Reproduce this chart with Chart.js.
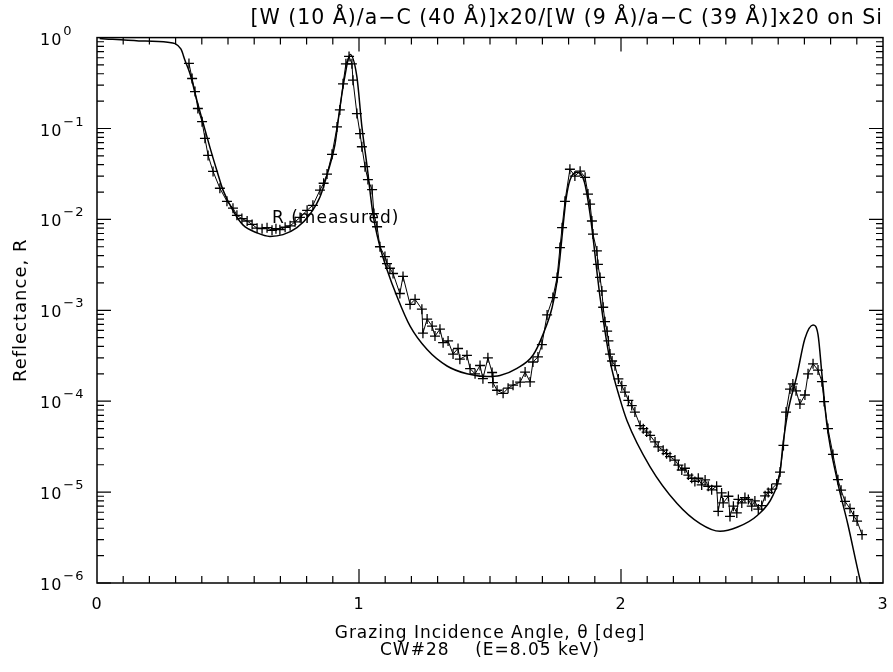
<!DOCTYPE html>
<html>
<head>
<meta charset="utf-8">
<script src="https://cdn.jsdelivr.net/npm/chart.js@4.4.0/dist/chart.umd.min.js"></script>
<style>
html, body { margin: 0; padding: 0; background: #fff; }
</style>
</head>
<body>
<canvas id="chart" width="893" height="672"></canvas>
<script>
// calculated reflectance (smooth line)
var calcTheta = [0.01, 0.16, 0.27, 0.32, 0.336, 0.355, 0.382, 0.405, 0.431, 0.458, 0.481, 0.519, 0.557, 0.611, 0.66, 0.71,
  0.763, 0.813, 0.851, 0.878, 0.908, 0.927, 0.947, 0.966, 0.992, 1.011, 1.031, 1.053, 1.08, 1.107, 1.145, 1.195,
  1.26, 1.336, 1.412, 1.489, 1.538, 1.603, 1.664, 1.702, 1.737, 1.756, 1.767, 1.779, 1.79, 1.805, 1.832, 1.86,
  1.882, 1.92, 1.958, 1.996, 2.023, 2.111, 2.214, 2.302, 2.378, 2.443, 2.519, 2.58, 2.607, 2.618, 2.637, 2.672,
  2.702, 2.733, 2.752, 2.767, 2.786, 2.824, 2.866, 2.912, 2.93];
var calcR = [0.98, 0.92, 0.89, 0.75, 0.56, 0.40, 0.20, 0.115, 0.062, 0.034, 0.021, 0.0125, 0.0087, 0.0071, 0.0065, 0.0068,
  0.0081, 0.0114, 0.0176, 0.031, 0.066, 0.17, 0.39, 0.65, 0.37, 0.105, 0.038, 0.0116, 0.0050, 0.0028, 0.00142, 0.00067,
  0.00037, 0.000244, 0.0002, 0.000187, 0.000192, 0.00023, 0.00032, 0.00054, 0.00107, 0.00208, 0.0038, 0.0085, 0.0165, 0.027, 0.033, 0.026,
  0.0114, 0.0014, 0.00028, 0.000106, 0.000061, 0.000019, 7.5e-6, 4.5e-6, 3.7e-6, 4.1e-6, 5.5e-6, 9.2e-6, 1.65e-5, 3.3e-5, 7.6e-5, 1.95e-4,
  4.9e-4, 6.9e-4, 5.4e-4, 1.96e-4, 5.5e-5, 1.4e-5, 4.4e-6, 1.1e-6, 7e-7];

// measured reflectance (+ markers)
var measTheta = [0.351, 0.363, 0.374, 0.385, 0.401, 0.412, 0.424, 0.443, 0.469, 0.496, 0.519, 0.534, 0.553, 0.573, 0.592, 0.611,
  0.63, 0.649, 0.668, 0.683, 0.698, 0.718, 0.737, 0.756, 0.775, 0.802, 0.824, 0.851, 0.865, 0.878, 0.897, 0.916,
  0.927, 0.939, 0.95, 0.962, 0.973, 0.977, 0.992, 1.004, 1.011, 1.023, 1.034, 1.05, 1.057, 1.069, 1.08, 1.099,
  1.107, 1.118, 1.13, 1.156, 1.168, 1.195, 1.214, 1.24, 1.244, 1.26, 1.279, 1.29, 1.309, 1.321, 1.34, 1.359,
  1.378, 1.385, 1.412, 1.424, 1.443, 1.462, 1.473, 1.492, 1.508, 1.511, 1.527, 1.55, 1.569, 1.588, 1.615, 1.634,
  1.653, 1.664, 1.683, 1.698, 1.718, 1.74, 1.756, 1.767, 1.775, 1.786, 1.805, 1.824, 1.844, 1.863, 1.874, 1.882,
  1.889, 1.893, 1.908, 1.912, 1.92, 1.927, 1.932, 1.939, 1.947, 1.952, 1.958, 1.966, 1.977, 1.99, 2.003, 2.015,
  2.028, 2.041, 2.053, 2.073, 2.085, 2.098, 2.111, 2.13, 2.142, 2.161, 2.174, 2.187, 2.206, 2.219, 2.232, 2.244,
  2.257, 2.27, 2.282, 2.295, 2.308, 2.321, 2.333, 2.346, 2.365, 2.371, 2.384, 2.39, 2.41, 2.416, 2.429, 2.442,
  2.448, 2.461, 2.473, 2.486, 2.499, 2.511, 2.524, 2.537, 2.55, 2.562, 2.575, 2.594, 2.607, 2.62, 2.63, 2.645,
  2.656, 2.668, 2.683, 2.702, 2.714, 2.733, 2.752, 2.767, 2.775, 2.79, 2.809, 2.828, 2.84, 2.855, 2.874, 2.888,
  2.901, 2.92];
var measR = [0.52, 0.355, 0.255, 0.166, 0.119, 0.078, 0.0506, 0.0337, 0.022, 0.0158, 0.0133, 0.0111, 0.0102, 0.0096, 0.0088, 0.0080,
  0.0079, 0.0081, 0.0076, 0.0079, 0.0077, 0.0082, 0.0085, 0.0094, 0.0105, 0.0126, 0.0143, 0.021, 0.025, 0.0315, 0.052, 0.104,
  0.16, 0.31, 0.515, 0.62, 0.515, 0.34, 0.146, 0.0877, 0.063, 0.038, 0.0274, 0.0213, 0.0116, 0.0083, 0.0050, 0.0039,
  0.00327, 0.0029, 0.00254, 0.00153, 0.00236, 0.00116, 0.00132, 0.00103, 0.00056, 0.0008, 0.00067, 0.00052, 0.00062, 0.00044, 0.00046, 0.00033,
  0.00038, 0.00029, 0.00032, 0.000228, 0.0002, 0.000247, 0.000177, 0.0003, 0.000207, 0.00016, 0.000132, 0.000122, 0.000139, 0.00015, 0.000162, 0.000209,
  0.000163, 0.00027, 0.000307, 0.00042, 0.00089, 0.00138, 0.0023, 0.0049, 0.0081, 0.0158, 0.0356, 0.030, 0.0339, 0.029, 0.019, 0.0147,
  0.0096, 0.0069, 0.0045, 0.0032, 0.0023, 0.00163, 0.00108, 0.00075, 0.00059, 0.00046, 0.00033, 0.000277, 0.000246, 0.000176, 0.000148, 0.000126,
  0.000102, 8.95e-5, 7.6e-5, 5.4e-5, 4.98e-5, 4.58e-5, 4.2e-5, 3.56e-5, 3.14e-5, 2.89e-5, 2.65e-5, 2.45e-5, 2.25e-5, 1.98e-5, 1.75e-5, 1.83e-5,
  1.54e-5, 1.42e-5, 1.31e-5, 1.42e-5, 1.2e-5, 1.36e-5, 1.16e-5, 1.06e-5, 1.16e-5, 6.15e-6, 9.8e-6, 7.6e-6, 9.0e-6, 5.4e-6, 7.0e-6, 5.9e-6,
  8.3e-6, 7.6e-6, 8.7e-6, 8.3e-6, 7.0e-6, 8.0e-6, 6.5e-6, 7.1e-6, 9.1e-6, 9.9e-6, 1.08e-5, 1.23e-5, 1.66e-5, 3.26e-5, 7.6e-5, 1.36e-4,
  1.55e-4, 1.3e-4, 9.3e-5, 1.17e-4, 2.0e-4, 2.58e-4, 2.2e-4, 1.64e-4, 9.9e-5, 5.0e-5, 2.6e-5, 1.37e-5, 1.05e-5, 7.9e-6, 6.6e-6, 5.5e-6,
  4.8e-6, 3.4e-6];

var xTickValues = [0, 1, 2, 3];
var xTickLabels = ['0', '1', '2', '3'];
var yExponents = [0, -1, -2, -3, -4, -5, -6];

var titleText = '[W (10 Å)/a\u2212C (40 Å)]x20/[W (9 Å)/a\u2212C (39 Å)]x20 on Si';
var labelText = 'R (measured)';
var labelAt = { x: 0.668, y: 0.0102 };

var FONT = "'DejaVu Sans', sans-serif";

function pairs(xs, ys) {
  return xs.map(function(x, i) { return { x: x, y: ys[i] }; });
}

// the old plotting font is wide, so space letters out a bit
var spacingPlugin = {
  id: 'spacingPlugin',
  beforeUpdate: function(chart) { chart.ctx.letterSpacing = '1px'; },
  beforeDraw: function(chart) { chart.ctx.letterSpacing = '1px'; }
};

// frame, inward tick marks, power-of-ten labels and the curve label
var framePlugin = {
  id: 'framePlugin',
  afterDatasetsDraw: function(chart) {
    var ctx = chart.ctx, a = chart.chartArea;
    var xs = chart.scales.x, ys = chart.scales.y;
    ctx.save();
    ctx.strokeStyle = '#000';
    ctx.lineWidth = 1.5;
    ctx.strokeRect(a.left, a.top, a.right - a.left, a.bottom - a.top);
    ctx.lineWidth = 1.2;
    ctx.beginPath();
    for (var i = 1; i < 30; i++) {
      var px = xs.getPixelForValue(i / 10);
      var len = (i % 10 === 0) ? 14 : 7;
      ctx.moveTo(px, a.bottom); ctx.lineTo(px, a.bottom - len);
      ctx.moveTo(px, a.top); ctx.lineTo(px, a.top + len);
    }
    for (var e = -6; e < 0; e++) {
      for (var k = 1; k < 10; k++) {
        var py = ys.getPixelForValue(k * Math.pow(10, e));
        var l = (k === 1) ? 14 : 7;
        ctx.moveTo(a.left, py); ctx.lineTo(a.left + l, py);
        ctx.moveTo(a.right, py); ctx.lineTo(a.right - l, py);
      }
    }
    ctx.stroke();

    ctx.fillStyle = '#000';
    ctx.textBaseline = 'alphabetic';
    ctx.textAlign = 'left';
    yExponents.forEach(function(ex) {
      var py = ys.getPixelForValue(Math.pow(10, ex));
      ctx.font = '16px ' + FONT;
      ctx.fillText('10', 40, py + 7);
      var w = ctx.measureText('10').width;
      ctx.font = '13px ' + FONT;
      ctx.fillText(ex === 0 ? '0' : '\u2212' + (-ex), 40 + w + 1, py - 3);
    });

    ctx.font = '17px ' + FONT;
    ctx.textBaseline = 'middle';
    ctx.fillText(labelText, xs.getPixelForValue(labelAt.x), ys.getPixelForValue(labelAt.y));
    ctx.restore();
  }
};

new Chart(document.getElementById('chart').getContext('2d'), {
  type: 'line',
  data: {
    datasets: [{
      label: 'R (measured)',
      data: pairs(measTheta, measR),
      borderColor: '#000',
      backgroundColor: '#000',
      borderWidth: 1,
      pointStyle: 'cross',
      pointRadius: 5,
      pointBorderWidth: 1.3,
      pointBorderColor: '#000',
      tension: 0
    }, {
      label: 'R (calculated)',
      data: pairs(calcTheta, calcR),
      borderColor: '#000',
      borderWidth: 1.5,
      pointRadius: 0,
      cubicInterpolationMode: 'monotone'
    }]
  },
  options: {
    responsive: false,
    animation: false,
    layout: { padding: { left: 0, right: 10, top: 0, bottom: 0 } },
    plugins: {
      legend: { display: false },
      tooltip: { enabled: false },
      title: {
        display: true,
        text: titleText,
        align: 'end',
        color: '#000',
        font: { family: FONT, size: 20.5, weight: 'normal' },
        padding: { top: 6, bottom: 7 }
      }
    },
    scales: {
      x: {
        type: 'linear',
        min: 0,
        max: 3,
        grid: { display: false },
        border: { display: false },
        afterBuildTicks: function(s) { s.ticks = xTickValues.map(function(v) { return { value: v }; }); },
        afterFit: function(s) { s.height = 89; },
        ticks: {
          color: '#000',
          padding: 4,
          font: { family: FONT, size: 16 },
          maxRotation: 0,
          autoSkip: false,
          callback: function(v, i) { return xTickLabels[i]; }
        },
        title: {
          display: true,
          text: ['Grazing Incidence Angle, \u03b8 [deg]', 'CW#28    (E=8.05 keV)'],
          color: '#000',
          font: { family: FONT, size: 17, lineHeight: 1.05 },
          padding: { top: 0, bottom: 12 }
        }
      },
      y: {
        type: 'logarithmic',
        min: 1e-6,
        max: 1,
        grid: { display: false },
        border: { display: false },
        afterFit: function(s) { s.width = 97; },
        ticks: { display: false },
        title: {
          display: true,
          text: 'Reflectance, R',
          color: '#000',
          font: { family: FONT, size: 18 },
          padding: { top: 11, bottom: 0 }
        }
      }
    }
  },
  plugins: [spacingPlugin, framePlugin]
});
</script>
</body>
</html>
